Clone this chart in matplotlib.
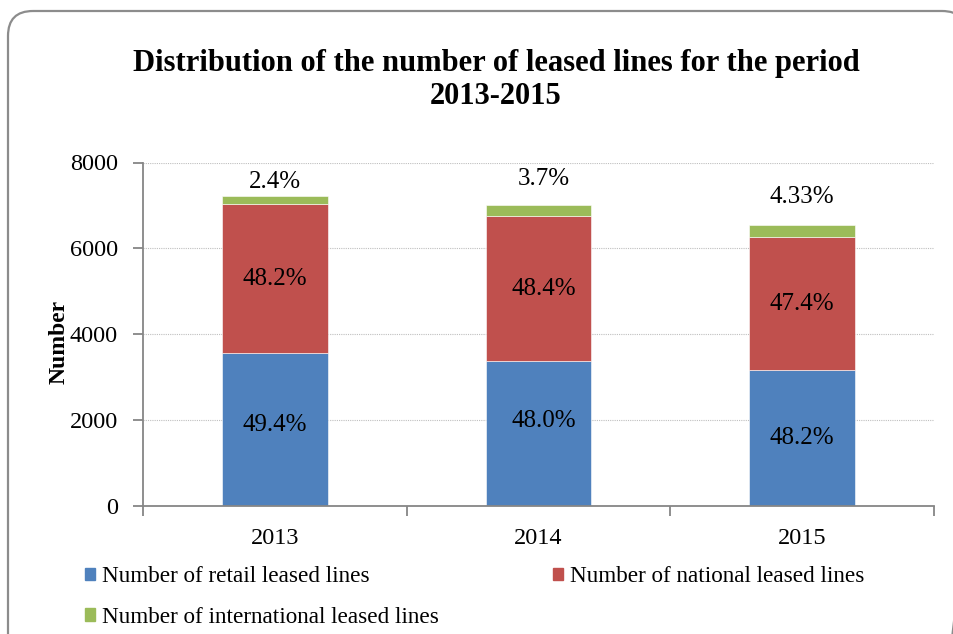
import matplotlib
matplotlib.use('Agg')
import matplotlib.pyplot as plt
from matplotlib.patches import FancyBboxPatch, Patch
import numpy as np

# data
years = ['2013', '2014', '2015']
retail = np.array([3565, 3372, 3163])
national = np.array([3465, 3379, 3093])
international = np.array([179, 265, 286])

retail_pct = ['49.4%', '48.0%', '48.2%']
national_pct = ['48.2%', '48.4%', '47.4%']
intl_pct = ['2.4%', '3.7%', '4.33%']

series_names = ['Number of retail leased lines',
                'Number of national leased lines',
                'Number of international leased lines']
colors = ['#4F81BD', '#C0504D', '#9BBB59']

plt.rcParams['font.family'] = ['Liberation Serif', 'DejaVu Serif']
axis_grey = '#868686'

fig = plt.figure(figsize=(9.54, 6.34), dpi=100)

# background axes in pixel units for the rounded chart-area border
bg = fig.add_axes([0, 0, 1, 1], zorder=-1)
bg.set_xlim(0, 954)
bg.set_ylim(634, 0)
bg.axis('off')
bg.add_patch(FancyBboxPatch((8, 11), 959, 660,
                            boxstyle='round,pad=0,rounding_size=25',
                            facecolor='none', edgecolor='#8C8C8C', linewidth=1.6,
                            clip_on=False))

ax = fig.add_axes([143 / 954, 1 - 506 / 634, (934 - 143) / 954, (506 - 162.5) / 634])

x = np.arange(len(years))
w = 0.4
ax.bar(x, retail, w, color=colors[0], edgecolor='white', linewidth=0.4, zorder=2)
ax.bar(x, national, w, bottom=retail, color=colors[1], edgecolor='white', linewidth=0.4, zorder=2)
ax.bar(x, international, w, bottom=retail + national, color=colors[2],
       edgecolor='white', linewidth=0.4, zorder=2)

# percentage labels, placed roughly like the hand-placed labels in the original
blue_shift = [100, 290, 0]
green_shift = [330, 590, 650]
x_shift = [0, 0.02, 0]
for i in range(len(years)):
    ax.text(x[i] + x_shift[i], retail[i] / 2 + blue_shift[i], retail_pct[i],
            ha='center', va='center', fontsize=18, zorder=3)
    ax.text(x[i] + x_shift[i], retail[i] + national[i] / 2, national_pct[i],
            ha='center', va='center', fontsize=18, zorder=3)
    top = retail[i] + national[i] + international[i]
    ax.text(x[i] + x_shift[i], top + green_shift[i], intl_pct[i],
            ha='center', va='center', fontsize=18, zorder=3)

ax.set_xlim(-0.5, 2.5)
ax.set_ylim(0, 8000)
ax.set_yticks([0, 2000, 4000, 6000, 8000])
ax.set_xticks(x, years)
ax.set_xticks([-0.5, 0.5, 1.5, 2.5], minor=True)

ax.yaxis.grid(True, linestyle=(0, (1, 1)), color='#BFBFBF', linewidth=0.8)
ax.set_axisbelow(True)

for side in ['top', 'right']:
    ax.spines[side].set_visible(False)
for side in ['left', 'bottom']:
    ax.spines[side].set_color(axis_grey)
    ax.spines[side].set_linewidth(1.3)

ax.tick_params(axis='y', direction='out', length=7, width=1.3, color=axis_grey,
               labelsize=17.5, pad=11)
ax.tick_params(axis='x', which='major', length=0, labelsize=17.5, pad=16)
ax.tick_params(axis='x', which='minor', direction='out', length=7, width=1.3,
               color=axis_grey)

ax.set_ylabel('Number', fontsize=17, fontweight='bold')
ax.yaxis.set_label_coords(-0.0923, 0.477)

fig.text(496 / 954, 1 - 80 / 634, 'Distribution of the number of leased lines for the period\n2013-2015',
         ha='center', va='center', fontsize=22, fontweight='bold', linespacing=1.2)

# legend: column-wise fill -> row 1 retail/national, row 2 international
handles = [Patch(color=colors[0]), Patch(color=colors[2]), Patch(color=colors[1])]
labels = [series_names[0], series_names[2], series_names[1]]
fig.legend(handles, labels, loc='upper left', bbox_to_anchor=(85 / 954, 1 - 566 / 634),
           ncol=2, frameon=False, fontsize=16.7, handlelength=0.45, handleheight=0.45,
           handletextpad=0.3, columnspacing=4.9, labelspacing=0.85,
           borderpad=0, borderaxespad=0)

fig.savefig('out.png', dpi=100)
